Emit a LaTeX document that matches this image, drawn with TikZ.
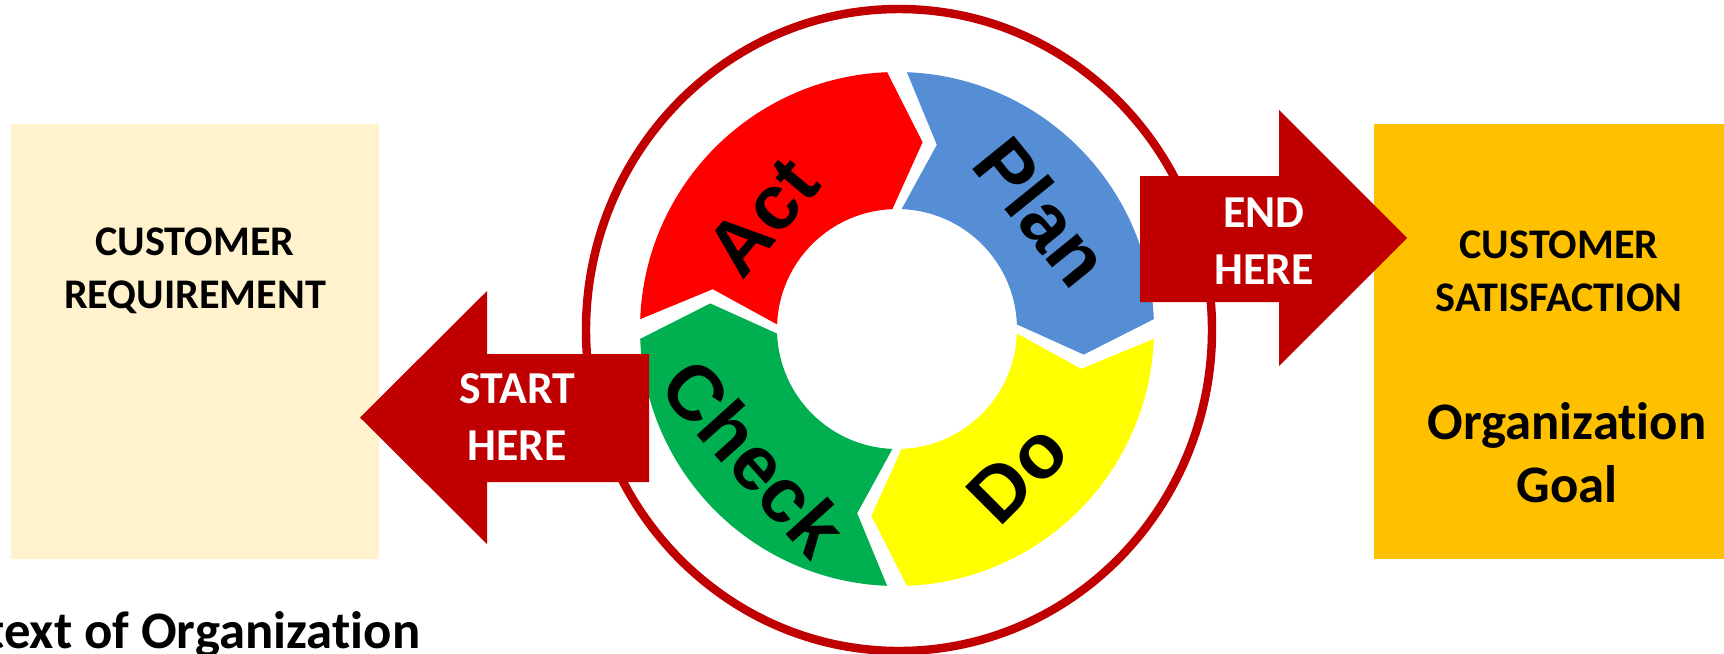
\documentclass[tikz,border=0pt]{standalone}
\usepackage{fontspec}
\setmainfont{Carlito}[Ligatures={NoCommon}]
\newfontfamily\pdcafont{Liberation Sans}
\usetikzlibrary{calc,positioning}
\definecolor{dred}{RGB}{192,0,0}
\definecolor{actred}{RGB}{255,0,0}
\definecolor{planblue}{RGB}{85,142,213}
\definecolor{doyellow}{RGB}{255,255,0}
\definecolor{checkgreen}{RGB}{0,176,80}
\definecolor{reqcream}{RGB}{255,242,204}
\definecolor{goalamber}{RGB}{255,192,0}

\begin{document}
\begin{tikzpicture}[x=0.01cm,y=0.01cm,
  boxtext/.style={align=center,font=\fontsize{12}{15}\selectfont\bfseries},
  arrowtext/.style={align=center,text=white,font=\fontsize{13}{16.2}\selectfont\bfseries},
  pdcatext/.style={font=\pdcafont\fontsize{22}{22}\selectfont\bfseries}]

\useasboundingbox (0,0) rectangle (1724,653);
\clip (0,0) rectangle (1724,653);

% the two boxes
\fill[reqcream] (11,94) rectangle (379,529);
\fill[goalamber] (1374,94) rectangle (1724,529);
\node[boxtext] (req) at (195,382) {CUSTOMER\\REQUIREMENT};
\node[boxtext] (sat) at (1559,382) {CUSTOMER\\SATISFACTION};
\node[align=center,font=\fontsize{15}{18}\selectfont\bfseries] (goal) at (1567,200) {Organization\\Goal};

% outer ring
\draw[dred,line width=2.4pt] (899,323) ellipse [x radius=313,y radius=321];

% the PDCA wheel
\def\cx{897} \def\cy{324}
\def\Ro{257} \def\Ri{120}
\pgfmathsetmacro\Rm{(\Ro+\Ri)/2}
\def\gap{2.2}
\def\tip{10}
\foreach \col/\s/\nm/\lab/\la/\lr/\rot in {actred/180/act/Act/140/175/50,
                                          planblue/90/plan/Plan/39/187/-51,
                                          doyellow/0/do/Do/310/188/45,
                                          checkgreen/-90/check/Check/222/192/-48}
{
  \pgfmathsetmacro\sa{\s-\gap}
  \pgfmathsetmacro\ea{\s-90+\gap}
  \fill[\col,shift={(\cx,\cy)}] (\sa:\Ro) arc (\sa:\ea:\Ro) -- ({\ea-\tip}:\Rm) -- (\ea:\Ri)
        arc (\ea:\sa:\Ri) -- ({\sa-\tip}:\Rm) -- cycle;
  \node[pdcatext,rotate=\rot] (\nm) at ($(\cx,\cy)+(\la:\lr)$) {\lab};
}

% start and end arrows
\fill[dred] (649,299) -- (487,299) -- (487,362) -- (360,235.5) -- (487,109) -- (487,171) -- (649,171) -- cycle;
\node[arrowtext] (starthere) at (517,236) {START\\HERE};
\fill[dred] (1140,477) -- (1279,477) -- (1279,543) -- (1407,415) -- (1279,287) -- (1279,351) -- (1140,351) -- cycle;
\node[arrowtext] (endhere) at (1264,412) {END\\HERE};

\node[anchor=base east,inner sep=0pt,font=\fontsize{15}{18}\selectfont\bfseries] (context) at (421,5) {text of Organization};
\end{tikzpicture}
\end{document}
